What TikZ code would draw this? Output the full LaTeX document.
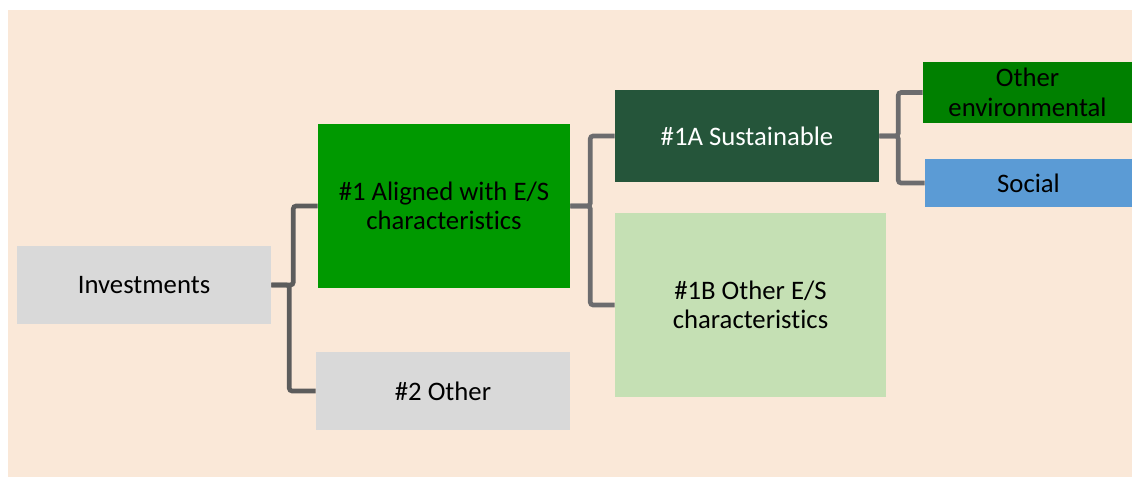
\documentclass[tikz,border=0pt]{standalone}
\usepackage{fontspec}
\setmainfont{Carlito}[Ligatures={NoCommon,NoRare}]
\usepackage{xcolor}
\usepackage{tikz}

\definecolor{peach}{RGB}{250,232,216}
\definecolor{boxgray}{RGB}{217,217,217}
\definecolor{esgreen}{RGB}{0,153,0}
\definecolor{sustgreen}{RGB}{37,85,58}
\definecolor{palegreen}{RGB}{197,224,180}
\definecolor{envgreen}{RGB}{0,128,0}
\definecolor{socialblue}{RGB}{91,155,213}
\definecolor{linkgray}{RGB}{92,92,92}
\definecolor{linkgray2}{RGB}{108,108,110}

\begin{document}
\begin{tikzpicture}[
    box/.style={rectangle, inner sep=0pt, align=center, font=\fontsize{19}{21}\selectfont},
    link/.style={draw=linkgray, line width=3.3pt, rounded corners=2pt},
    link2/.style={link, draw=linkgray2}
]
    \useasboundingbox (0,0) rectangle (28.3,11.925);
    \fill[peach] (0.2,0) rectangle (28.3,11.675);

    \node[box, fill=boxgray, minimum width=6.35cm, minimum height=1.95cm] (invest) at (3.6,4.8) {Investments};
    \node[box, fill=esgreen, minimum width=6.3cm, minimum height=4.1cm] (aligned) at (11.1,6.775) {\#1 Aligned with E/S\\characteristics};
    \node[box, fill=boxgray, minimum width=6.35cm, minimum height=1.95cm] (other) at (11.075,2.15) {\#2 Other};
    \node[box, fill=sustgreen, text=white, minimum width=6.6cm, minimum height=2.3cm] (sustain) at (18.675,8.525) {\#1A Sustainable};
    \node[box, fill=palegreen, minimum width=6.775cm, minimum height=4.6cm] (otheres) at (18.7625,4.3) {\#1B Other E/S\\characteristics};
    \node[box, fill=envgreen, minimum width=5.225cm, minimum height=1.525cm] (environ) at (25.6875,9.6125) {Other\\environmental};
    \node[box, fill=socialblue, minimum width=5.175cm, minimum height=1.2cm] (social) at (25.7125,7.35) {Social};

    \draw[link] (invest.east) -- ++(0.55,0) |- (aligned.west);
    \draw[link] (invest.east) -- ++(0.45,0) |- (other.west);
    \draw[link2] (aligned.east) -- ++(0.5,0) |- (sustain.west);
    \draw[link2] (aligned.east) -- ++(0.5,0) |- (otheres.west);
    \draw[link2] (sustain.east) -- ++(0.475,0) |- (environ.west);
    \draw[link2] (sustain.east) -- ++(0.475,0) |- (social.west);
\end{tikzpicture}
\end{document}
